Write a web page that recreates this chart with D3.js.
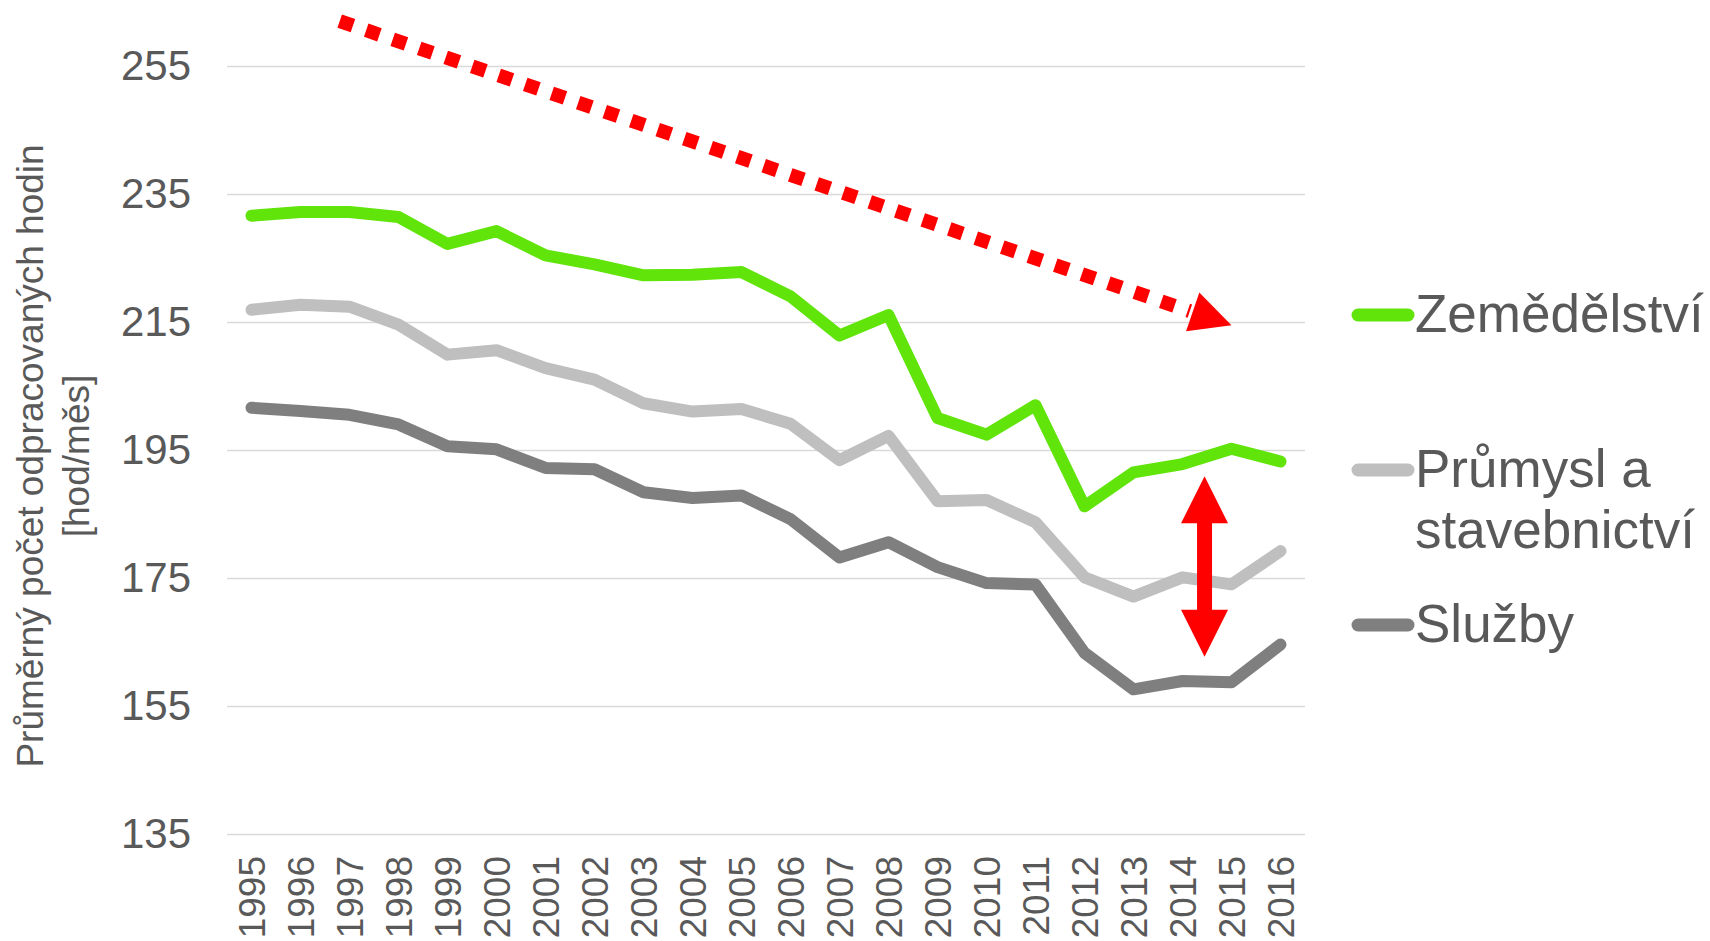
<!DOCTYPE html>
<html>
<head>
<meta charset="utf-8">
<script src="https://cdn.jsdelivr.net/npm/d3@7"></script>
<style>
    body { margin: 0; background: #fff; }
    text { font-family: "Liberation Sans", Arial, sans-serif; fill: #595959; }
</style>
</head>
<body>
<div id="chart"></div>
<script>
// data
const years = ['1995', '1996', '1997', '1998', '1999', '2000', '2001', '2002', '2003', '2004', '2005',
    '2006', '2007', '2008', '2009', '2010', '2011', '2012', '2013', '2014', '2015', '2016'];
const zemedelstvi = [231.6, 232.2, 232.2, 231.4, 227.2, 229.2, 225.4, 224.0, 222.3, 222.4, 222.8,
    219.0, 212.9, 216.1, 200.0, 197.4, 202.0, 186.2, 191.5, 192.8, 195.2, 193.2];
const prumysl = [216.9, 217.7, 217.4, 214.6, 209.9, 210.6, 207.8, 206.0, 202.3, 201.0, 201.4,
    199.1, 193.4, 197.2, 187.0, 187.2, 183.7, 175.1, 172.1, 175.1, 174.0, 179.2];
const sluzby = [201.6, 201.1, 200.5, 199.0, 195.6, 195.1, 192.2, 192.0, 188.4, 187.5, 187.9,
    184.2, 178.2, 180.6, 176.7, 174.2, 174.0, 163.3, 157.6, 158.9, 158.7, 164.6];
const yTicks = [135, 155, 175, 195, 215, 235, 255];
const seriesNames = [['Zemědělství'], ['Průmysl a', 'stavebnictví'], ['Služby']];
const seriesColors = ['#60e40a', '#bfbfbf', '#7f7f7f'];
const axisTitle = ['Průměrný počet odpracovaných hodin', '[hod/měs]'];

// annotations (year index, value)
const trendStart = [1.8, 262];
const trendEnd = [20.0, 214.5];
const gapTop = [19.45, 190.9];
const gapBottom = [19.45, 162.7];


class lineVis {
    constructor(parentElement) {
        this.parentElement = parentElement;
        this.initVis();
    }

    initVis() {
        let vis = this;
        vis.margin = {top: 66, right: 405, bottom: 107, left: 227};
        vis.width = 1710 - vis.margin.left - vis.margin.right;
        vis.height = 941 - vis.margin.top - vis.margin.bottom;

        vis.root = d3.select('#' + vis.parentElement).append('svg')
            .attr('width', 1710)
            .attr('height', 941);
        vis.svg = vis.root.append('g')
            .attr('transform', `translate(${vis.margin.left}, ${vis.margin.top})`);

        vis.x = d3.scalePoint().domain(years).range([0, vis.width]).padding(0.5);
        vis.y = d3.scaleLinear().domain([135, 255]).range([vis.height, 0]);

        // index -> x, also for fractional positions
        vis.xi = i => vis.x(years[0]) + i * vis.x.step();

        vis.updateVis();
    }

    updateVis() {
        let vis = this;

        // grid + y labels
        let yAxis = d3.axisLeft(vis.y).tickValues(yTicks).tickSize(-vis.width).tickPadding(36);
        let yG = vis.svg.append('g').call(yAxis);
        yG.select('.domain').remove();
        yG.selectAll('line').attr('stroke', '#d9d9d9').attr('stroke-width', 1.5);
        yG.selectAll('text').attr('font-size', 42).attr('fill', '#595959')
            .style('font-family', '"Liberation Sans", Arial, sans-serif');

        // x labels
        let xAxis = d3.axisBottom(vis.x).tickSize(0).tickPadding(0);
        let xG = vis.svg.append('g').attr('transform', `translate(0, ${vis.height})`).call(xAxis);
        xG.select('.domain').remove();
        xG.selectAll('text')
            .attr('font-size', 37)
            .attr('fill', '#595959')
            .style('font-family', '"Liberation Sans", Arial, sans-serif')
            .attr('text-anchor', 'end')
            .attr('transform', 'rotate(-90)')
            .attr('x', -22)
            .attr('y', 0)
            .attr('dy', '0.36em');

        // axis title
        let title = vis.root.append('text')
            .attr('transform', 'translate(30, 456) rotate(-90)')
            .attr('text-anchor', 'middle')
            .attr('font-size', 37);
        axisTitle.forEach((t, i) => {
            title.append('tspan').attr('x', 0).attr('dy', i === 0 ? '0.35em' : 46).text(t);
        });

        // lines
        let line = d3.line()
            .x((d, i) => vis.x(years[i]))
            .y(d => vis.y(d));
        [zemedelstvi, prumysl, sluzby].forEach((s, k) => {
            vis.svg.append('path')
                .datum(s)
                .attr('d', line)
                .attr('fill', 'none')
                .attr('stroke', seriesColors[k])
                .attr('stroke-width', 12)
                .attr('stroke-linejoin', 'round')
                .attr('stroke-linecap', 'round');
        });

        // dotted trend arrow
        let x0 = vis.xi(trendStart[0]), y0 = vis.y(trendStart[1]);
        let x1 = vis.xi(trendEnd[0]), y1 = vis.y(trendEnd[1]);
        let ang = Math.atan2(y1 - y0, x1 - x0);
        let headL = 41, headW = 41;
        let bx = x1 - headL * Math.cos(ang), by = y1 - headL * Math.sin(ang);
        vis.svg.append('line')
            .attr('x1', x0).attr('y1', y0)
            .attr('x2', bx - 3 * Math.cos(ang)).attr('y2', by - 3 * Math.sin(ang))
            .attr('stroke', '#ff0000')
            .attr('stroke-width', 14)
            .attr('stroke-dasharray', '14 14');
        let nx = -Math.sin(ang), ny = Math.cos(ang);
        vis.svg.append('path')
            .attr('d', `M${x1},${y1}L${bx + nx * headW / 2},${by + ny * headW / 2}L${bx - nx * headW / 2},${by - ny * headW / 2}Z`)
            .attr('fill', '#ff0000');

        // double arrow between series
        let gx = vis.xi(gapTop[0]);
        let gt = vis.y(gapTop[1]), gb = vis.y(gapBottom[1]);
        let hl = 47, hw = 47, sw = 15;
        vis.svg.append('path')
            .attr('d', `M${gx},${gt}L${gx + hw / 2},${gt + hl}L${gx + sw / 2},${gt + hl}L${gx + sw / 2},${gb - hl}` +
                `L${gx + hw / 2},${gb - hl}L${gx},${gb}L${gx - hw / 2},${gb - hl}L${gx - sw / 2},${gb - hl}` +
                `L${gx - sw / 2},${gt + hl}L${gx - hw / 2},${gt + hl}Z`)
            .attr('fill', '#ff0000');

        // legend
        let legendY = [315, 470, 625];
        seriesNames.forEach((names, k) => {
            let g = vis.root.append('g').attr('transform', `translate(1358, ${legendY[k]})`);
            g.append('line')
                .attr('x1', 0).attr('x2', 50)
                .attr('stroke', seriesColors[k])
                .attr('stroke-width', 13)
                .attr('stroke-linecap', 'round');
            let t = g.append('text').attr('x', 57).attr('y', 17).attr('font-size', 53);
            names.forEach((n, i) => {
                t.append('tspan').attr('x', 57).attr('dy', i === 0 ? 0 : 61).text(n);
            });
        });
    }
}

new lineVis('chart');
</script>
</body>
</html>
